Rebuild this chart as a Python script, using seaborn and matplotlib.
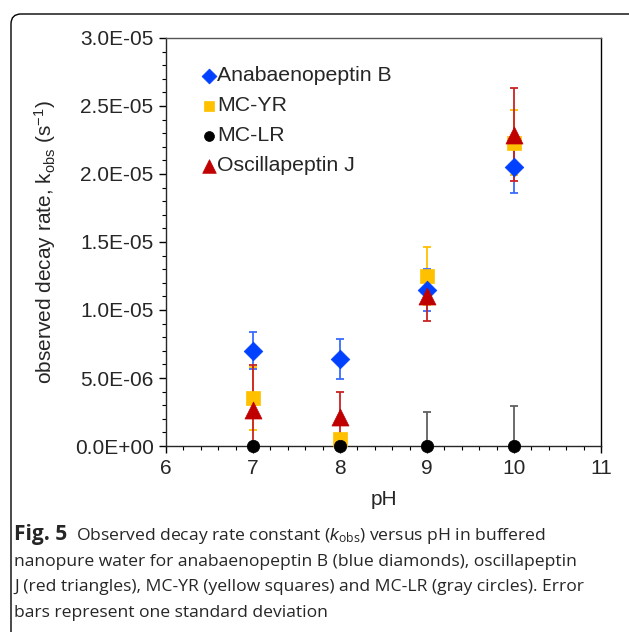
import pandas as pd
import matplotlib.pyplot as plt
import seaborn as sns
from matplotlib.patches import FancyBboxPatch
from matplotlib.ticker import MultipleLocator

# data (decay rate constants, s^-1)
ph = [7, 8, 9, 10]
anabaenopeptin_b = [7.0e-6, 6.4e-6, 1.15e-5, 2.05e-5]
anabaenopeptin_b_sd = [1.35e-6, 1.5e-6, 1.55e-6, 1.9e-6]
mc_yr = [3.5e-6, 5.0e-7, 1.25e-5, 2.23e-5]
mc_yr_sd = [2.3e-6, 0.0, 2.1e-6, 2.4e-6]
mc_lr = [0.0, 0.0, 0.0, 0.0]
mc_lr_sd = [0.0, 0.0, 2.5e-6, 2.95e-6]
oscillapeptin_j = [2.65e-6, 2.15e-6, 1.10e-5, 2.29e-5]
oscillapeptin_j_sd = [3.3e-6, 1.8e-6, 1.8e-6, 3.4e-6]

caption_lines = [
    "nanopure water for anabaenopeptin B (blue diamonds), oscillapeptin",
    "J (red triangles), MC-YR (yellow squares) and MC-LR (gray circles). Error",
    "bars represent one standard deviation",
]

sns.set_style("ticks")
plt.rcParams['font.family'] = ['Liberation Sans', 'DejaVu Sans']
plt.rcParams['mathtext.fontset'] = 'custom'
plt.rcParams['mathtext.rm'] = 'Liberation Sans'
plt.rcParams['mathtext.it'] = 'Liberation Sans:italic'

fig = plt.figure(figsize=(6.29, 6.32), dpi=100)
ax = fig.add_axes([166 / 629, 1 - 446 / 632, 435 / 629, 408 / 632])

# drawing order: yellow, blue, red, black (legend order set separately)
series = [
    ("MC-YR", mc_yr, mc_yr_sd, "s", "#FFC000", "#FFC000", 95),
    ("Anabaenopeptin B", anabaenopeptin_b, anabaenopeptin_b_sd, "D", "#0040FF", "#3a6bff", 90),
    ("Oscillapeptin J", oscillapeptin_j, oscillapeptin_j_sd, "^", "#C00000", "#cc2222", 150),
    ("MC-LR", mc_lr, mc_lr_sd, "o", "#000000", "#606060", 80),
]

for name, vals, sd, mk, col, ecol, size in series:
    ax.errorbar(ph, vals, yerr=sd, fmt="none", ecolor=ecol, elinewidth=1.3,
                capsize=3, capthick=1.3, zorder=2)

for name, vals, sd, mk, col, ecol, size in series:
    df = pd.DataFrame({"pH": ph, "k": vals})
    sns.scatterplot(data=df, x="pH", y="k", marker=mk, color=col, s=size,
                    edgecolor=col, linewidth=0.5, label=name, ax=ax,
                    zorder=3, clip_on=False)

handles, labels = ax.get_legend_handles_labels()
order = ["Anabaenopeptin B", "MC-YR", "MC-LR", "Oscillapeptin J"]
hmap = dict(zip(labels, handles))
ax.legend([hmap[o] for o in order], order, loc="upper left",
          bbox_to_anchor=(0.062, 0.952), frameon=False, fontsize=15.3,
          handletextpad=0.05, handlelength=0.7, labelspacing=0.52,
          markerscale=0.8, borderaxespad=0)

ax.set_xlim(6, 11)
ax.set_ylim(0, 3.0e-5)
ax.xaxis.set_major_locator(MultipleLocator(1))
ax.xaxis.set_minor_locator(MultipleLocator(0.2))
ax.yaxis.set_major_locator(MultipleLocator(5e-6))
ax.yaxis.set_minor_locator(MultipleLocator(1e-6))
ax.yaxis.set_major_formatter(plt.FuncFormatter(lambda v, p: "%.1E" % v))
ax.tick_params(axis="both", which="major", labelsize=15, length=5,
               width=1, color="black", direction="out", pad=4)
ax.tick_params(axis="both", which="minor", length=3, width=0.8,
               color="black", direction="out")
for side in ["top", "right", "left", "bottom"]:
    ax.spines[side].set_visible(True)
    ax.spines[side].set_linewidth(1.0)
ax.spines["top"].set_color("#555555")
ax.spines["right"].set_color("black")

ax.set_xlabel("pH", fontsize=15, labelpad=9)
ax.set_ylabel(r"observed decay rate, k$_\mathregular{obs}$ (s$^\mathregular{-1}$)",
              fontsize=15, labelpad=12)

# rounded frame around the figure panel
frame = FancyBboxPatch((0.11, -0.2), 6.3, 6.18 + 0.2,
                       boxstyle="round,pad=0,rounding_size=0.1",
                       transform=fig.dpi_scale_trans, fill=False,
                       edgecolor="black", linewidth=1.0, clip_on=False)
fig.patches.append(frame)

# caption
cap_font = ["Open Sans", "DejaVu Sans"]
fs = 12.6
y0 = 1 - 540 / 632
t = fig.text(14 / 629, y0, "Fig. 5", fontsize=15, fontweight="bold",
             family=cap_font, va="baseline")
renderer = fig.canvas.get_renderer()
bb = t.get_window_extent(renderer=renderer)
fig.text(bb.x1 / 629 + 0.014, y0,
         r"Observed decay rate constant ($\mathit{k}_\mathregular{obs}$) versus pH in buffered",
         fontsize=fs, family=cap_font, va="baseline")
for i, line in enumerate(caption_lines):
    fig.text(14 / 629, y0 - (i + 1) * 25.7 / 632, line, fontsize=fs,
             family=cap_font, va="baseline")

fig.savefig("out.png", dpi=100)
